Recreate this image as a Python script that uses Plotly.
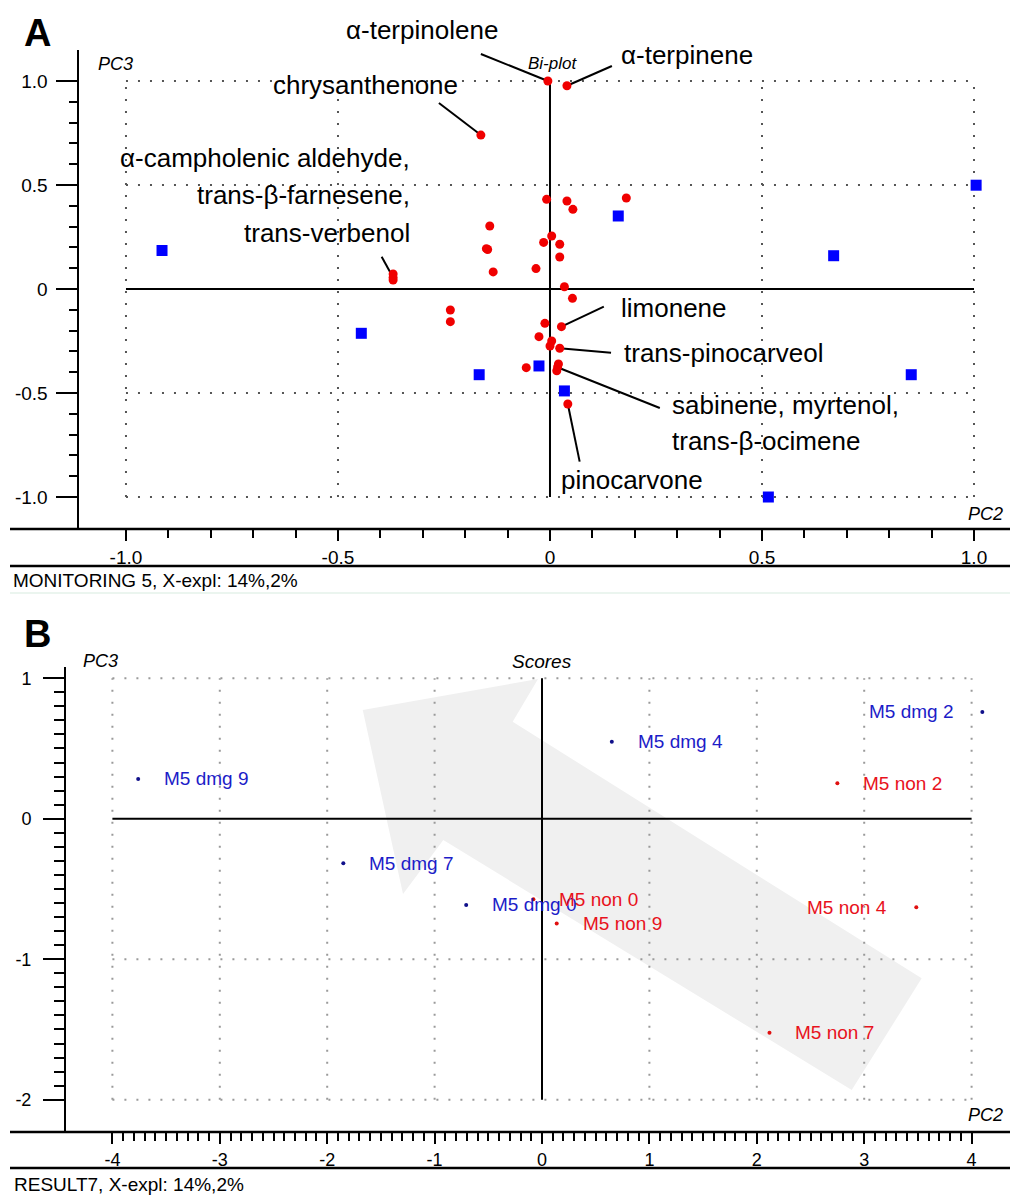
import numpy as np
import plotly.graph_objects as go

W, H = 1010, 1196

# ---------------- Panel A data (Bi-plot, PC2 vs PC3) ----------------
a_sample_pc2 = [-0.915, -0.445, -0.167, -0.026, 0.034, 0.515, 0.852, 0.161, 0.669, 1.005]
a_sample_pc3 = [0.185, -0.213, -0.412, -0.370, -0.490, -1.000, -0.412, 0.351, 0.160, 0.499]

a_var_pc2 = [-0.005, 0.040, -0.163, -0.370, -0.370, -0.370, -0.008, 0.040, 0.054, 0.180,
             -0.142, -0.150, -0.147, -0.134, 0.004, -0.015, 0.023, 0.023, -0.033, 0.034,
             0.053, -0.235, -0.235, 0.027, -0.012, -0.026, 0.004, 0.000, 0.023, 0.020,
             0.016, 0.018, -0.056, 0.042]
a_var_pc3 = [1.000, 0.977, 0.740, 0.072, 0.055, 0.043, 0.431, 0.423, 0.383, 0.4375,
             0.303, 0.194, 0.190, 0.082, 0.255, 0.224, 0.215, 0.154, 0.098, 0.011,
             -0.045, -0.101, -0.157, -0.181, -0.165, -0.229, -0.250, -0.274, -0.285, -0.360,
             -0.393, -0.375, -0.378, -0.553]

# variable labels: text, anchor position, alignment
a_label_text = ["α-terpinolene", "α-terpinene", "chrysanthenone",
                "α-campholenic aldehyde,", "trans-β-farnesene,", "trans-verbenol",
                "limonene", "trans-pinocarveol", "sabinene, myrtenol,", "trans-β-ocimene",
                "pinocarvone"]
a_label_x = [-0.302, 0.163, -0.436, -0.326, -0.326, -0.326, 0.163, 0.170, 0.283, 0.283, 0.0205]
a_label_y = [1.245, 1.125, 0.981, 0.630, 0.452, 0.269, -0.091, -0.308, -0.558, -0.729, -0.918]
a_label_anchor = ["center", "left", "center", "right", "right", "right",
                  "left", "left", "left", "left", "left"]

# leader lines: from label to variable point
a_lead_x0 = [-0.163, 0.146, -0.262, -0.397, 0.127, 0.144, 0.259, 0.070]
a_lead_y0 = [1.130, 1.072, 0.894, 0.155, -0.085, -0.306, -0.572, -0.830]
a_lead_x1 = [-0.005, 0.040, -0.163, -0.370, 0.027, 0.023, 0.016, 0.042]
a_lead_y1 = [1.000, 0.977, 0.740, 0.055, -0.181, -0.285, -0.375, -0.553]

a_ticks = [-1.0, -0.5, 0.0, 0.5, 1.0]
a_ticktext = ["-1.0", "-0.5", "0", "0.5", "1.0"]

# ---------------- Panel B data (Scores, PC2 vs PC3) ----------------
b_dmg_names = ["M5 dmg 9", "M5 dmg 7", "M5 dmg 4", "M5 dmg 2", "M5 dmg 0"]
b_dmg_pc2 = [-3.76, -1.85, 0.65, 4.10, -0.706]
b_dmg_pc3 = [0.283, -0.317, 0.548, 0.760, -0.614]
b_dmg_side = ["right", "right", "right", "left", "right"]

b_non_names = ["M5 non 2", "M5 non 0", "M5 non 9", "M5 non 4", "M5 non 7"]
b_non_pc2 = [2.75, -0.08, 0.137, 3.485, 2.118]
b_non_pc3 = [0.252, -0.574, -0.746, -0.630, -1.523]
b_non_side = ["right", "right", "right", "left", "right"]

b_xticks = [-4, -3, -2, -1, 0, 1, 2, 3, 4]
b_yticks = [-2, -1, 0, 1]

# highlighted trend arrow (vertices in score space)
b_arrow_pc2 = [-1.669, -0.037, -0.273, 3.535, 2.884, -0.919, -1.294]
b_arrow_pc3 = [0.774, 0.994, 0.690, -1.136, -1.931, -0.152, -0.536]

FONT = "Liberation Sans, Arial, sans-serif"

# axis geometry (pixels in the page)
A_LEFT, A_TOP, A_BOTTOM = 79, 50, 529
B_LEFT, B_TOP, B_BOTTOM = 66, 667, 1132
A_XRANGE = [-1.1108, 1.0849]
A_YRANGE = [-1.1538, 1.149]
B_XRANGE = [-4.432, 4.3575]
B_YRANGE = [-2.2299, 1.0797]

fig = go.Figure()

# ---------- shapes: arrow, grid, zero lines ----------
shapes = []
path = "M " + " L ".join(f"{x},{y}" for x, y in zip(b_arrow_pc2, b_arrow_pc3)) + " Z"
shapes.append(dict(type="path", path=path, xref="x2", yref="y2", fillcolor="#f0f0f0",
                   line=dict(width=0), layer="below"))

def dotted(xr, yr, x0, y0, x1, y1, color):
    shapes.append(dict(type="line", xref=xr, yref=yr, x0=x0, y0=y0, x1=x1, y1=y1,
                       line=dict(color=color, width=2, dash="2px,10px"), layer="below"))

def solid(xr, yr, x0, y0, x1, y1, w=2):
    shapes.append(dict(type="line", xref=xr, yref=yr, x0=x0, y0=y0, x1=x1, y1=y1,
                       line=dict(color="black", width=w), layer="below"))

for g in [-1.0, -0.5, 0.5, 1.0]:
    dotted("x", "y", g, -1, g, 1, "#555555")
    dotted("x", "y", -1, g, 1, g, "#555555")
solid("x", "y", -1, 0, 1, 0)
solid("x", "y", 0, -1, 0, 1)

for g in [-4, -3, -2, -1, 1, 2, 3, 4]:
    dotted("x2", "y2", g, -2, g, 1, "#9a9a9a")
for g in [-2, -1, 1]:
    dotted("x2", "y2", -4, g, 4, g, "#9a9a9a")
solid("x2", "y2", -4, 0, 4, 0)
solid("x2", "y2", 0, -2, 0, 1)

# leader lines
for x0, y0, x1, y1 in zip(a_lead_x0, a_lead_y0, a_lead_x1, a_lead_y1):
    shapes.append(dict(type="line", xref="x", yref="y", x0=x0, y0=y0, x1=x1, y1=y1,
                       line=dict(color="black", width=2), layer="below"))

# frame lines (axis baselines extended, separators)
def hline_px(py, w=2.5, color="black"):
    yp = 1 - py / H
    shapes.append(dict(type="line", xref="paper", yref="paper", x0=10 / W, x1=1,
                       y0=yp, y1=yp, line=dict(color=color, width=w), layer="below"))

hline_px(A_BOTTOM)
hline_px(566)
hline_px(593, 1.5, "#e4f2ea")
hline_px(B_BOTTOM)
hline_px(1168)

# ---------- traces ----------
fig.add_trace(go.Scatter(x=a_var_pc2, y=a_var_pc3, mode="markers", xaxis="x", yaxis="y",
                         marker=dict(color="#f00000", size=9, symbol="circle"),
                         showlegend=False, hoverinfo="skip"))
fig.add_trace(go.Scatter(x=a_sample_pc2, y=a_sample_pc3, mode="markers", xaxis="x", yaxis="y",
                         marker=dict(color="#0000ff", size=11, symbol="square"),
                         showlegend=False, hoverinfo="skip"))
fig.add_trace(go.Scatter(x=b_dmg_pc2, y=b_dmg_pc3, mode="markers", xaxis="x2", yaxis="y2",
                         marker=dict(color="#10108a", size=4),
                         showlegend=False, hoverinfo="skip"))
fig.add_trace(go.Scatter(x=b_non_pc2, y=b_non_pc3, mode="markers", xaxis="x2", yaxis="y2",
                         marker=dict(color="#e01010", size=4),
                         showlegend=False, hoverinfo="skip"))

# ---------- annotations ----------
ann = []

def a_to_paper(x, y):
    fx = (x - A_XRANGE[0]) / (A_XRANGE[1] - A_XRANGE[0])
    fy = (y - A_YRANGE[0]) / (A_YRANGE[1] - A_YRANGE[0])
    px = A_LEFT + fx * (W - A_LEFT)
    py = A_BOTTOM - fy * (A_BOTTOM - A_TOP)
    return px / W, 1 - py / H

for t, x, y, a in zip(a_label_text, a_label_x, a_label_y, a_label_anchor):
    # place via paper coordinates so labels above the axis range stay visible
    xp, yp = a_to_paper(x, y)
    ann.append(dict(text=t, x=xp, y=yp, xref="paper", yref="paper", xanchor=a,
                    yanchor="middle", showarrow=False,
                    font=dict(family=FONT, size=26, color="black")))

def score_labels(names, xs, ys, sides, color):
    for n, x, y, s in zip(names, xs, ys, sides):
        if s == "right":
            ann.append(dict(text=n, x=x, y=y, xref="x2", yref="y2", xanchor="left",
                            yanchor="middle", xshift=24, showarrow=False,
                            font=dict(family=FONT, size=19, color=color)))
        else:
            ann.append(dict(text=n, x=x, y=y, xref="x2", yref="y2", xanchor="right",
                            yanchor="middle", xshift=-27, showarrow=False,
                            font=dict(family=FONT, size=19, color=color)))

score_labels(b_dmg_names, b_dmg_pc2, b_dmg_pc3, b_dmg_side, "#1c1cc8")
score_labels(b_non_names, b_non_pc2, b_non_pc3, b_non_side, "#e8121c")

def px_text(text, px, py, size, xanchor="left", italic=False, bold=False):
    t = text
    if italic:
        t = f"<i>{t}</i>"
    if bold:
        t = f"<b>{t}</b>"
    ann.append(dict(text=t, x=px / W, y=1 - py / H, xref="paper", yref="paper",
                    xanchor=xanchor, yanchor="middle", showarrow=False,
                    font=dict(family=FONT, size=size, color="black")))

px_text("A", 22, 33, 38, bold=True)
px_text("B", 22, 634, 38, bold=True)
px_text("PC3", 96, 64, 18, italic=True)
px_text("Bi-plot", 552, 63, 17, "center", italic=True)
px_text("PC2", 1005, 514, 18, "right", italic=True)
px_text("PC3", 81, 661, 18, italic=True)
px_text("Scores", 542, 661, 19, "center", italic=True)
px_text("PC2", 1005, 1115, 18, "right", italic=True)
px_text("MONITORING 5, X-expl: 14%,2%", 11, 580, 19)
px_text("RESULT7, X-expl: 14%,2%", 12, 1184, 19)

# ---------- axes ----------
a_minor = [round(v, 2) for v in np.arange(-1.0, 1.0001, 0.1)]
b_xminor = [round(v, 2) for v in np.arange(-4.0, 4.0001, 0.1)]
b_yminor = [round(v, 2) for v in np.arange(-2.0, 1.0001, 0.1)]

common = dict(showgrid=False, zeroline=False, fixedrange=True, ticks="outside",
              tickcolor="black", tickwidth=2, tickfont=dict(family=FONT, size=19, color="black"))

fig.update_layout(
    width=W, height=H,
    margin=dict(l=0, r=0, t=0, b=0),
    paper_bgcolor="white", plot_bgcolor="white",
    showlegend=False, hovermode=False,
    xaxis=dict(domain=[A_LEFT / W, 1], range=A_XRANGE, anchor="y",
               tickmode="array", tickvals=a_ticks, ticktext=a_ticktext, ticklen=11,
               showline=False,
               minor=dict(tickmode="array", tickvals=a_minor, ticks="outside", ticklen=8,
                          tickwidth=2, tickcolor="black"),
               **common),
    yaxis=dict(domain=[1 - A_BOTTOM / H, 1 - A_TOP / H], range=A_YRANGE, anchor="x",
               tickmode="array", tickvals=a_ticks, ticktext=a_ticktext, ticklen=21,
               showline=True, linecolor="black", linewidth=2.5, ticklabelstandoff=4,
               minor=dict(tickmode="array", tickvals=a_minor, ticks="outside", ticklen=8,
                          tickwidth=2, tickcolor="black"),
               **common),
    xaxis2=dict(domain=[B_LEFT / W, 1], range=B_XRANGE, anchor="y2",
                tickmode="array", tickvals=b_xticks, ticktext=[str(v) for v in b_xticks],
                ticklen=11, showline=False,
                minor=dict(tickmode="array", tickvals=b_xminor, ticks="outside", ticklen=8,
                           tickwidth=2, tickcolor="black"),
                **{**common, "tickfont": dict(family=FONT, size=18, color="black")}),
    yaxis2=dict(domain=[1 - B_BOTTOM / H, 1 - B_TOP / H], range=B_YRANGE, anchor="x2",
                tickmode="array", tickvals=b_yticks, ticktext=[str(v) for v in b_yticks],
                ticklen=21, showline=True, linecolor="black", linewidth=2,
                ticklabelstandoff=8,
                minor=dict(tickmode="array", tickvals=b_yminor, ticks="outside", ticklen=10,
                           tickwidth=2, tickcolor="black"),
                **{**common, "tickfont": dict(family=FONT, size=18, color="black")}),
    shapes=shapes,
    annotations=ann,
)

fig.write_html(
    "out.html",
    config={"displayModeBar": False, "staticPlot": True},
    post_script="document.body.style.margin='0';document.body.style.overflow='hidden';",
)
